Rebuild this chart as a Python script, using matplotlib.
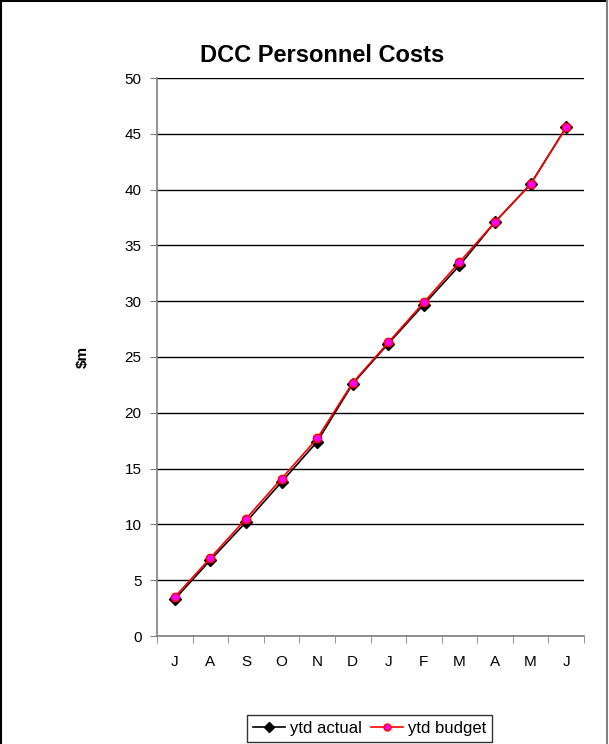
import matplotlib.pyplot as plt
from matplotlib.lines import Line2D

# monthly year-to-date personnel costs, $m
months = ["J", "A", "S", "O", "N", "D", "J", "F", "M", "A", "M", "J"]
ytd_actual = [3.3, 6.8, 10.2, 13.8, 17.4, 22.6, 26.2, 29.7, 33.2, 37.1, 40.5, 45.6]
ytd_budget = [3.5, 7.0, 10.5, 14.1, 17.7, 22.7, 26.3, 29.9, 33.5, 37.1, 40.5, 45.6]

plt.rcParams['font.family'] = ['Liberation Sans', 'DejaVu Sans']

W, H = 609, 744
fig = plt.figure(figsize=(W / 100, H / 100), dpi=100)
ax = fig.add_axes([157 / W, 1 - 636 / H, (584 - 157) / W, (636 - 78) / H])

x = list(range(len(months)))
ax.plot(x, ytd_actual, color='black', lw=1.2, marker='D', ms=6.5,
        mfc='black', mec='black', label='ytd actual', zorder=3)
ax.plot(x, ytd_budget, color='red', lw=1.2, marker='o', ms=6,
        mfc='#ff00ff', mec='red', mew=1, label='ytd budget', zorder=4)

ax.set_xlim(-0.5, len(months) - 0.5)
ax.set_ylim(0, 50)
ax.set_yticks(range(0, 51, 5))
ax.set_xticks(x)
ax.set_xticklabels(months)
ax.set_xticks([i - 0.5 for i in range(len(months) + 1)], minor=True)
ax.tick_params(axis='x', which='major', length=0, pad=14, labelsize=11)
ax.tick_params(axis='x', which='minor', length=5, color='#808080', direction='out')
ax.tick_params(axis='y', length=5, color='#808080', direction='out', labelsize=11, pad=6)

ax.yaxis.grid(True, color='black', lw=1)
ax.set_axisbelow(True)
for side in ('top', 'right'):
    ax.spines[side].set_visible(False)
for side in ('left', 'bottom'):
    ax.spines[side].set_color('#808080')
    ax.spines[side].set_linewidth(1.2)

fig.text(322 / W, 1 - 62 / H, 'DCC Personnel Costs', fontsize=17,
         fontweight='bold', ha='center', va='baseline')
fig.text(83 / W, 1 - 357 / H, '$m', fontsize=11, fontweight='bold',
         rotation=90, ha='center', va='center')

handles = [
    Line2D([], [], color='black', lw=1.2, marker='D', ms=5, mfc='black', mec='black'),
    Line2D([], [], color='red', lw=1.2, marker='o', ms=5, mfc='#ff00ff', mec='red'),
]
leg = fig.legend(handles, ['ytd actual', 'ytd budget'], loc='upper left',
                 bbox_to_anchor=(247 / W, 1 - 715 / H), ncol=2,
                 frameon=True, fancybox=False, fontsize=12, handlelength=1.9,
                 handletextpad=0.3, columnspacing=0.6, borderpad=0.35,
                 borderaxespad=0)
leg.get_frame().set_edgecolor('black')
leg.get_frame().set_linewidth(1)

# outer chart border (bottom edge falls off the canvas)
border = dict(color='black', lw=1.5, transform=fig.transFigure)
fig.add_artist(Line2D([0.002, 0.002], [0, 0.998], **border))
fig.add_artist(Line2D([0.002, 0.996], [0.998, 0.998], **border))
fig.add_artist(Line2D([0.996, 0.996], [0, 0.998], color='#808080', lw=1.5,
                      transform=fig.transFigure))

fig.savefig('out.png', dpi=100)
